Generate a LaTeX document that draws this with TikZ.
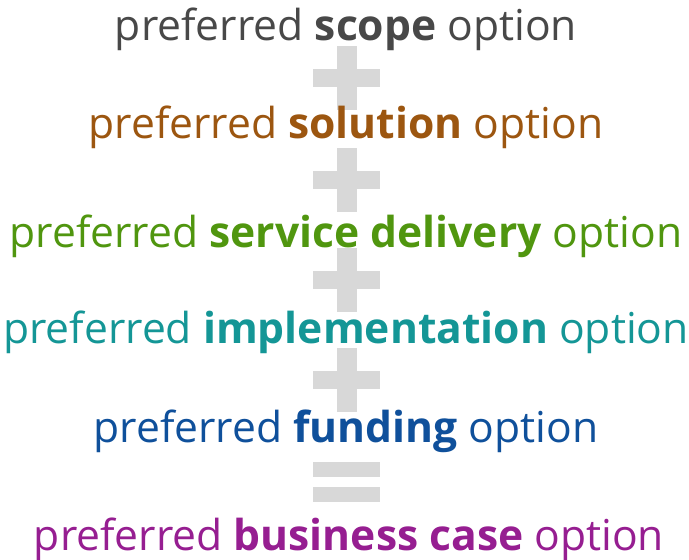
\documentclass[tikz,border=0pt]{standalone}
\usepackage{fontspec}
\setmainfont{Open Sans}
\definecolor{scopeGrey}{RGB}{72,72,72}
\definecolor{solutionBrown}{RGB}{156,86,16}
\definecolor{deliveryGreen}{RGB}{80,150,15}
\definecolor{implTeal}{RGB}{20,150,150}
\definecolor{fundingBlue}{RGB}{15,80,155}
\definecolor{casePurpleC}{RGB}{150,30,145}
\definecolor{barGrey}{RGB}{216,216,216}
\begin{document}
\begin{tikzpicture}[x=1pt,y=-1pt,
  opt/.style={anchor=base, inner sep=0pt, font=\fontsize{42.6}{46}\selectfont},
  bar/.style={fill=barGrey}]
\useasboundingbox (0,0) rectangle (689,560);
% plus signs between the lines
\foreach \y in {78,180,280,380} {
  \fill[bar] (313,\y-9) rectangle (380,\y+9);
  \fill[bar] (337,\y-32) rectangle (357,\y+32);
}
% equals sign
\fill[bar] (313,462) rectangle (380,477);
\fill[bar] (313,487) rectangle (380,502);
% the options
\node[opt, text=scopeGrey]     (scope)    at (346,40)  {preferred \textbf{scope} option};
\node[opt, text=solutionBrown] (solution) at (346,138) {preferred \textbf{solution} option};
\node[opt, text=deliveryGreen] (delivery) at (346,247) {preferred \textbf{service delivery} option};
\node[opt, text=implTeal]      (implementation) at (346,343) {preferred \textbf{implementation} option};
\node[opt, text=fundingBlue]   (funding)  at (346,442) {preferred \textbf{funding} option};
\node[opt, text=casePurpleC]   (businesscase) at (349,550) {preferred \textbf{business case} option};
\end{tikzpicture}
\end{document}
